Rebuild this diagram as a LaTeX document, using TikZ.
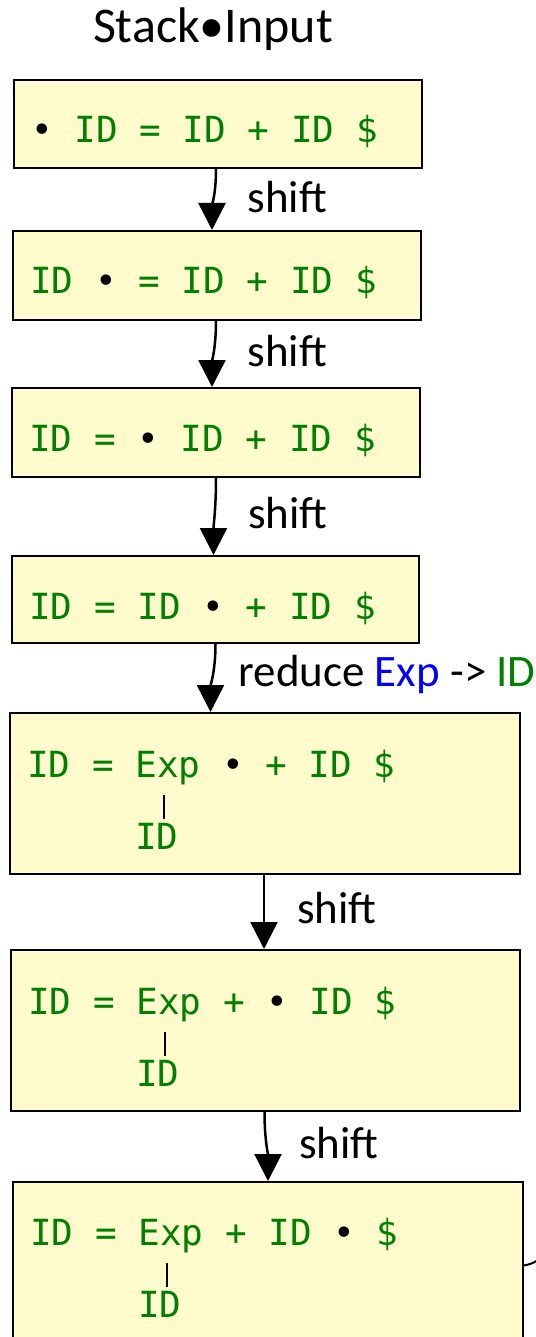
\documentclass[tikz,border=0pt]{standalone}
\usepackage{fontspec}
\setmainfont{Carlito}
\newfontfamily\codefont{DejaVu Sans Mono}
\usetikzlibrary{arrows.meta,positioning}
\definecolor{stackyellow}{RGB}{255,251,204}
\definecolor{symgreen}{RGB}{0,128,0}
\definecolor{ntblue}{RGB}{0,0,255}
\newcommand{\parsedot}{\textcolor{black}{•}}

\begin{document}
\begin{tikzpicture}[x=1pt,y=-1pt,
	conf/.style={draw,fill=stackyellow,line width=2pt,inner sep=0pt,anchor=north west},
	code/.style={anchor=base west,inner sep=0pt,text=symgreen,font=\codefont\fontsize{36}{40}\selectfont},
	act/.style={anchor=west,inner sep=0pt,font=\fontsize{45}{52}\selectfont,pos=0.45,xshift=32pt},
	flow/.style={line width=2.5pt,-{Triangle[width=27pt,length=27pt]}},
	tree/.style={line width=2pt}
]
	\useasboundingbox (0,0) rectangle (535,1337);
	\node[anchor=base,inner sep=0pt,font=\fontsize{50}{58}\selectfont] (title) at (213,43) {Stack•Input};

	% configurations
	\node[conf,minimum width=408pt,minimum height=88pt] (b1) at (13,79) {};
	\node[conf,minimum width=408pt,minimum height=89pt] (b2) at (12,230) {};
	\node[conf,minimum width=408pt,minimum height=89pt] (b3) at (11,387) {};
	\node[conf,minimum width=407pt,minimum height=87pt] (b4) at (11,555) {};
	\node[conf,minimum width=510pt,minimum height=161pt] (b5) at (9,712) {};
	\node[conf,minimum width=509pt,minimum height=161pt] (b6) at (10,949) {};
	\node[conf,minimum width=510pt,minimum height=161pt] (b7) at (12,1181) {};

	\node[code] (t1) at ([shift={(18pt,-64pt)}]b1.north west) {\parsedot{} ID = ID + ID \$};
	\node[code] (t2) at ([shift={(18pt,-64pt)}]b2.north west) {ID \parsedot{} = ID + ID \$};
	\node[code] (t3) at ([shift={(18pt,-64pt)}]b3.north west) {ID = \parsedot{} ID + ID \$};
	\node[code] (t4) at ([shift={(18pt,-64pt)}]b4.north west) {ID = ID \parsedot{} + ID \$};
	\node[code] (t5) at ([shift={(18pt,-65pt)}]b5.north west) {ID = Exp \parsedot{} + ID \$};
	\node[code] (t6) at ([shift={(18pt,-65pt)}]b6.north west) {ID = Exp + \parsedot{} ID \$};
	\node[code] (t7) at ([shift={(18pt,-64pt)}]b7.north west) {ID = Exp + ID \parsedot{} \$};

	% Exp -> ID subtrees
	\foreach \n in {5,6,7} {
		\node[code] (s\n) at ([shift={(108pt,-72pt)}]t\n.base west) {ID};
		\draw[tree] ([shift={(7pt,4pt)}]s\n.north) -- ([shift={(7pt,28pt)}]s\n.north);
	}

	% actions
	\draw[flow] ([xshift=-2pt]b1.south) to[out=-90,in=90] node[act] {shift} ([xshift=-5pt]b2.north);
	\draw[flow] ([xshift=-1pt]b2.south) to[out=-90,in=90] node[act] {shift} ([xshift=-4pt]b3.north);
	\draw[flow] (b3.south) to[out=-90,in=90] node[act] {shift} ([xshift=-2pt]b4.north);
	\draw[flow] (b4.south) to[out=-90,in=90] node[act,xshift=-8pt] {reduce \textcolor{ntblue}{Exp} -> \textcolor{symgreen}{ID}} ([xshift=-5pt]b4.south |- b5.north);
	\draw[flow] ([xshift=-1pt]b5.south) -- node[act] {shift} ([xshift=-1pt]b5.south |- b6.north);
	\draw[flow] ([xshift=-1pt]b6.south) to[out=-90,in=90] node[act] {shift} (b7.north);

	\coordinate (exit) at (565,1228);
	\draw[tree] ([yshift=-3pt]b7.east) to[out=10,in=-130] (exit);
\end{tikzpicture}
\end{document}
